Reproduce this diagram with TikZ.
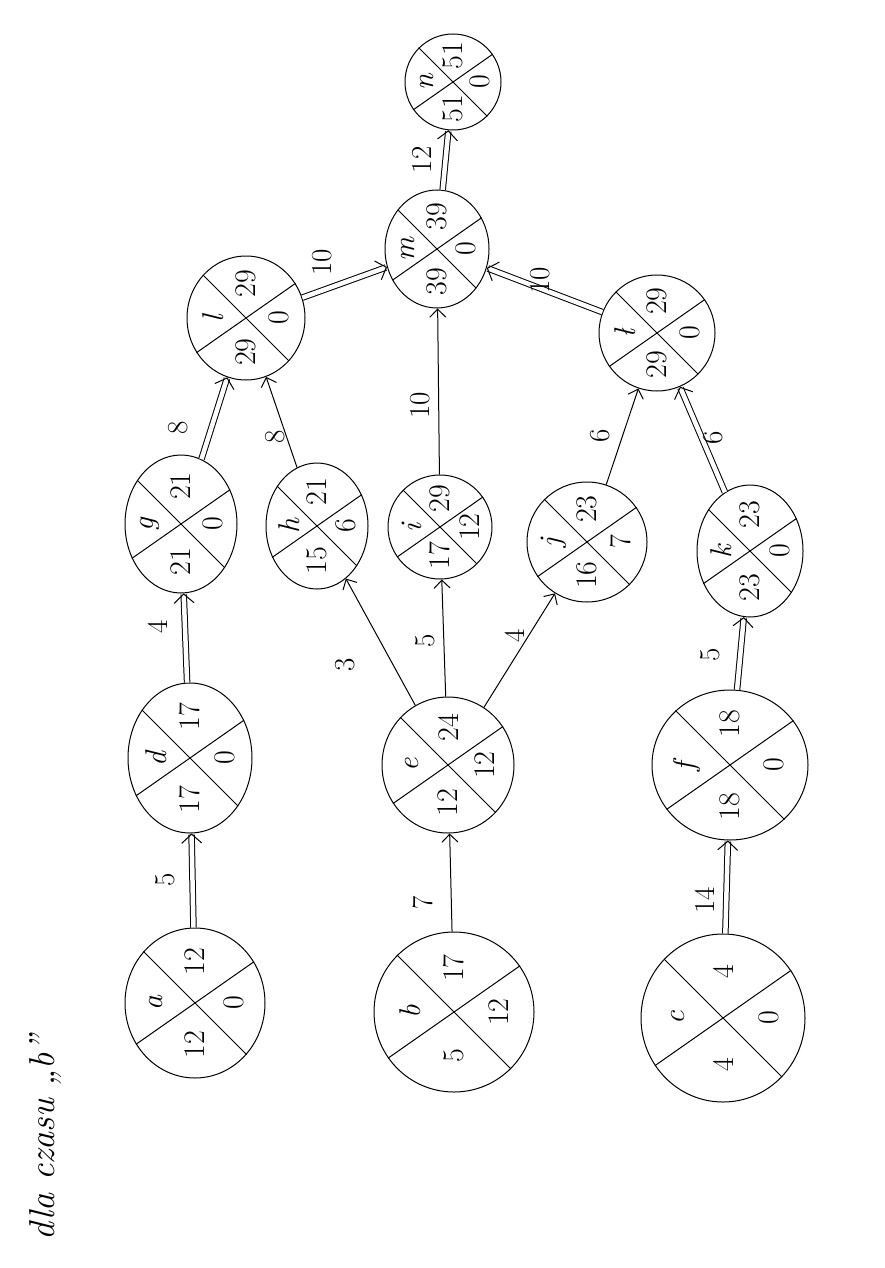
\documentclass[tikz,border=0pt]{standalone}
\usepackage{fontspec}
\usetikzlibrary{shapes.geometric,arrows.meta,calc}
\tikzset{
 pn/.style={ellipse, draw, line width=1pt, inner sep=0pt},
 xl/.style={line width=1pt},
 lab/.style={rotate=90, font=\fontsize{30}{32}\selectfont, inner sep=1pt},
 wl/.style={rotate=90, font=\fontsize{29}{31}\selectfont, inner sep=1pt},
 ar/.style={line width=1pt, -{Straight Barb[length=8pt,width=16pt]}},
 cr/.style={line width=1pt, double, double distance=4.5pt, -{Straight Barb[length=9pt,width=20pt]}},
}
\newcommand\pnet[9]{%
 \node[pn, minimum width={2*#4pt}, minimum height={2*#5pt}] (#1) at (#2,#3) {};
 \draw[xl] (#1.135) -- (#1.-45);
 \draw[xl] (#1.215) -- (#1.35);
 \node[lab] (#1-l) at ($(#1)+(-0.55*#4,0)$) {#6};
 \node[lab] (#1-t) at ($(#1)+(0,-0.55*#5)$) {#7};
 \node[lab] (#1-b) at ($(#1)+(0,0.55*#5)$) {#8};
 \node[lab] (#1-r) at ($(#1)+(0.56*#4,0)$) {#9};
}
\begin{document}
\begin{tikzpicture}[x=1pt,y=-1pt]
\fill[white] (0,0) rectangle (884,1268);
\useasboundingbox (0,0) rectangle (884,1268);

\node[rotate=90, font=\fontsize{36}{38}\selectfont\itshape] (title) at (45,1138) {dla czasu „b”};

\pnet{a}{195}{1003}{70}{75}{\textit{a}}{12}{12}{0}
\pnet{b}{454}{1012}{80}{80}{\textit{b}}{17}{5}{12}
\pnet{c}{723}{1018}{82}{84}{\textit{c}}{4}{4}{0}
\pnet{d}{190}{758}{62}{75}{\textit{d}}{17}{17}{0}
\pnet{e}{448}{765}{66}{68}{\textit{e}}{24}{12}{12}
\pnet{f}{730}{765}{78}{75}{\textit{f}}{18}{18}{0}
\pnet{g}{181}{524}{56}{69}{\textit{g}}{21}{21}{0}
\pnet{h}{317}{526}{51}{63}{\textit{h}}{21}{15}{6}
\pnet{i}{440}{527}{52}{52}{\textit{i}}{29}{17}{12}
\pnet{j}{587}{542}{60}{60}{\textit{j}}{23}{16}{7}
\pnet{k}{750}{551}{53}{66}{\textit{k}}{23}{23}{0}
\pnet{l}{246}{318}{59}{62}{\textit{l}}{29}{29}{0}
\pnet{m}{437}{249}{52}{59}{\textit{m}}{39}{39}{0}
\pnet{lb}{657}{333}{58}{58}{\textit{ł}}{29}{29}{0}
\pnet{n}{453}{82}{48}{48}{\textit{n}}{51}{51}{0}

% critical (double) arrows
\draw[cr] (a) -- (d);
\draw[cr] (d) -- (g);
\draw[cr] (g) -- (l);
\draw[cr] (l) -- (m);
\draw[cr] (c) -- (f);
\draw[cr] (f) -- (k);
\draw[cr] (k) -- (lb);
\draw[cr] (lb) -- (m);
\draw[cr] (m) -- (n);
% single arrows
\draw[ar] (b) -- (e);
\draw[ar] (e) -- (h);
\draw[ar] (e) -- (i);
\draw[ar] (e) -- (j);
\draw[ar] (h) -- (l);
\draw[ar] (i) -- (m);
\draw[ar] (j) -- (lb);

% edge labels
\node[wl] (w-ad) at (165,880) {5};
\node[wl] (w-dg) at (158,627) {4};
\node[wl] (w-gl) at (178,428) {8};
\node[wl] (w-hl) at (275,437) {8};
\node[wl] (w-lm) at (322,262) {10};
\node[wl] (w-be) at (423,903) {7};
\node[wl] (w-eh) at (345,665) {3};
\node[wl] (w-ei) at (425,641) {5};
\node[wl] (w-ej) at (515,636) {4};
\node[wl] (w-im) at (420,405) {10};
\node[wl] (w-jl) at (600,436) {6};
\node[wl] (w-kl) at (713,438) {6};
\node[wl] (w-lbm) at (540,280) {10};
\node[wl] (w-mn) at (422,160) {12};
\node[wl] (w-cf) at (705,900) {14};
\node[wl] (w-fk) at (710,655) {5};
\end{tikzpicture}
\end{document}
